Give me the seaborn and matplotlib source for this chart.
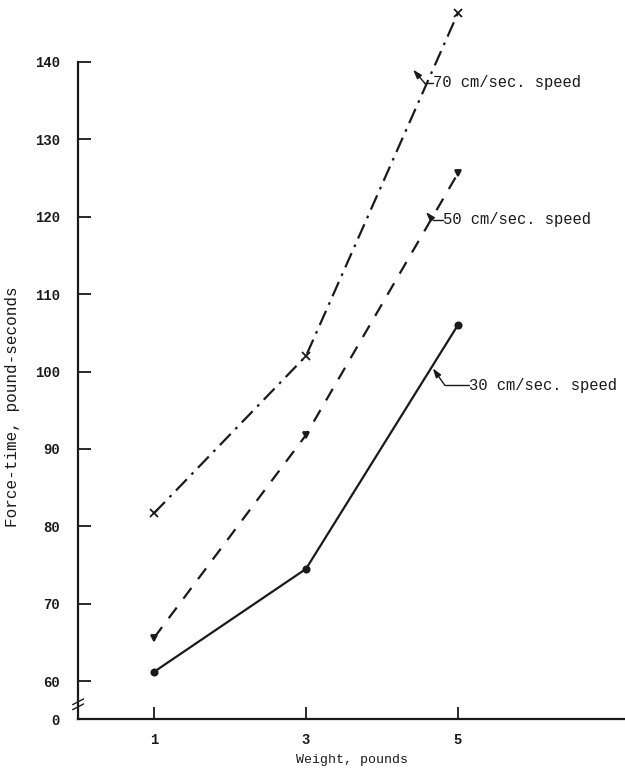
import matplotlib
matplotlib.use("Agg")
import matplotlib.pyplot as plt
import seaborn as sns
import pandas as pd

weights = [1, 3, 5]
speed_30 = [61.2, 74.5, 106.0]
speed_50 = [65.6, 91.8, 125.6]
speed_70 = [81.7, 102.0, 146.3]
y_ticks = [60, 70, 80, 90, 100, 110, 120, 130, 140]
x_ticks = [1, 3, 5]
labels = ["30 cm/sec. speed", "50 cm/sec. speed", "70 cm/sec. speed"]

sns.set_theme(style="ticks")
plt.rcParams["font.family"] = ["Liberation Mono", "DejaVu Sans Mono"]

df = pd.DataFrame({
    "w": weights * 3,
    "f": speed_30 + speed_50 + speed_70,
    "s": [labels[0]] * 3 + [labels[1]] * 3 + [labels[2]] * 3,
})

fig = plt.figure(figsize=(6.25, 7.7), dpi=100)
ax = fig.add_axes([0.125, 0.0662, 0.875, 0.9338])

ink = "#1a1a1a"
styles = {labels[0]: ("-", "o", 4.5), labels[1]: ((0, (6, 5)), "v", 5), labels[2]: ((0, (7, 3, 1.2, 3)), "x", 6)}
for lab in labels:
    sub = df[df["s"] == lab]
    ls, mk, ms = styles[lab]
    sns.lineplot(data=sub, x="w", y="f", ax=ax, color=ink, lw=1.6,
                 linestyle=ls, marker=mk, markersize=ms, markeredgewidth=1.3,
                 markeredgecolor=ink, legend=False)

y0 = 55.1
ax.set_xlim(0, 7.2)
ax.set_ylim(y0, 148)
ax.set_yticks([y0] + y_ticks)
ax.set_yticklabels(["0"] + [str(t) for t in y_ticks], fontsize=10, fontweight="bold")
ax.set_xticks(x_ticks)
ax.set_xticklabels([str(t) for t in x_ticks], fontsize=10, fontweight="bold")
ax.tick_params(direction="in", length=9, width=1.3, color=ink, labelcolor=ink)
ax.tick_params(axis="x", pad=10)
ax.tick_params(axis="y", pad=13)
ax.set_xlabel("Weight, pounds", fontsize=9.5, color=ink)
ax.xaxis.set_label_coords(0.5, -0.048)
ax.set_ylabel("Force-time, pound-seconds", fontsize=11.5, color=ink)
ax.yaxis.set_label_coords(-0.106, 0.434)
for s in ["top", "right"]:
    ax.spines[s].set_visible(False)
ax.spines["left"].set_bounds(y0, 140)
for s in ["left", "bottom"]:
    ax.spines[s].set_linewidth(1.6)
    ax.spines[s].set_color(ink)

# axis break marks
for dy in (0.017, 0.024):
    ax.plot([-0.01, 0.01], [dy - 0.004, dy + 0.004], transform=ax.transAxes,
            color=ink, lw=1.0, clip_on=False)

# (label, arrow tip, leader corner, text start)
ann = [
    (labels[2], (4.41, 139.0), (4.56, 137.3), 4.67),
    (labels[1], (4.58, 120.6), (4.67, 119.6), 4.80),
    (labels[0], (4.67, 100.4), (4.83, 98.2), 5.15),
]
for text, tip, corner, tx in ann:
    ax.annotate("", xy=tip, xytext=corner,
                arrowprops=dict(arrowstyle="-|>,head_length=0.45,head_width=0.15",
                                color=ink, lw=1.0, shrinkA=0, shrinkB=0))
    ax.plot([corner[0], tx], [corner[1], corner[1]], color=ink, lw=1.0)
    ax.text(tx, corner[1], text, fontsize=11.2, ha="left", va="center", color=ink)

fig.savefig("out.png", dpi=100, facecolor="white")
